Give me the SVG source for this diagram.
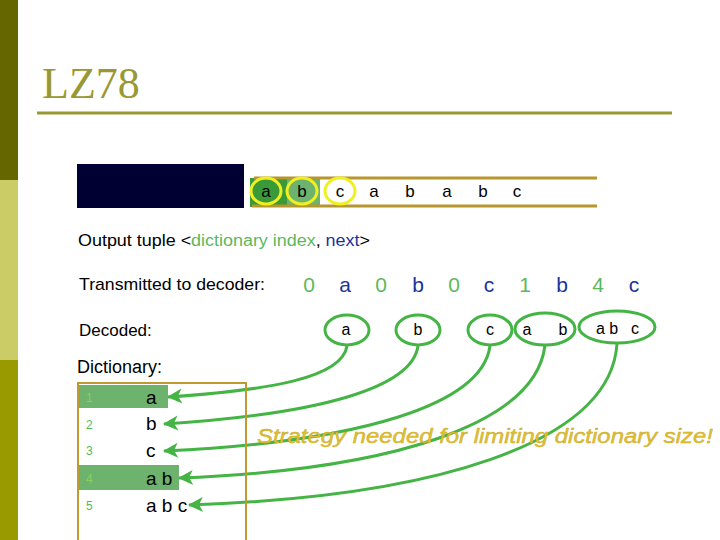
<svg xmlns="http://www.w3.org/2000/svg" width="720" height="540" viewBox="0 0 720 540">
<defs>
<style>
.sans{font-family:"Liberation Sans",Arial,sans-serif}
.blk{fill:#000}
.grn{fill:#5cb85c}
.nvy{fill:#1a3399}
.tape{font-family:"Liberation Sans",Arial,sans-serif;font-size:17px;fill:#000;text-anchor:middle}
.seq{font-family:"Liberation Sans",Arial,sans-serif;font-size:21px;text-anchor:middle}
.dec{font-family:"Liberation Sans",Arial,sans-serif;font-size:16px;fill:#000;text-anchor:middle}
.ell{fill:#fff;stroke:#44b444;stroke-width:3}
.conn{fill:none;stroke:#44b444;stroke-width:3;marker-end:url(#arr)}
.num{font-family:"Liberation Sans",Arial,sans-serif;font-size:12px;fill:#55bb55}
.numhl{fill:#88d060}
.ent{font-family:"Liberation Sans",Arial,sans-serif;font-size:19px;fill:#000}
.yc{stroke:#f0f020;stroke-width:3}
</style>
<marker id="arr" markerUnits="userSpaceOnUse" markerWidth="20" markerHeight="20" refX="14" refY="0" orient="auto" overflow="visible">
<path d="M15,0 L0,-7.5 L4,0 L0,7.5 z" fill="#44b444"/>
</marker>
</defs>
<rect width="720" height="540" fill="#fff"/>
<g id="sidebar">
<rect x="0" y="0" width="18" height="180" fill="#666600"/>
<rect x="0" y="180" width="18" height="180" fill="#cccc66"/>
<rect x="0" y="360" width="18" height="180" fill="#999900"/>
</g>
<g id="title">
<text x="42" y="98" font-family="'Liberation Serif','Times New Roman',serif" font-size="44" fill="#999933">LZ78</text>
<line x1="37" y1="113" x2="672" y2="113" stroke="#999933" stroke-width="3"/>
</g>
<g id="window">
<rect x="77" y="164" width="167" height="44" fill="#000033"/>
<rect x="250" y="178" width="37" height="29" fill="#3a9a3a"/>
<rect x="287" y="178" width="33" height="29" fill="#6db36d"/>
<line x1="254" y1="178" x2="597" y2="178" stroke="#b8962e" stroke-width="3"/>
<line x1="252" y1="206" x2="597" y2="206" stroke="#b8962e" stroke-width="3"/>
<ellipse cx="266" cy="191" rx="15" ry="13" fill="none" class="yc"/>
<ellipse cx="302" cy="191" rx="15" ry="13" fill="none" class="yc"/>
<ellipse cx="340" cy="191" rx="15" ry="13" fill="#fff" class="yc"/>
<text class="tape" x="266" y="197">a</text>
<text class="tape" x="302" y="197">b</text>
<text class="tape" x="340" y="197">c</text>
<text class="tape" x="374" y="197">a</text>
<text class="tape" x="410" y="197">b</text>
<text class="tape" x="447" y="197">a</text>
<text class="tape" x="483" y="197">b</text>
<text class="tape" x="517" y="197">c</text>
</g>
<g id="labels">
<text class="sans blk" x="78" y="246" font-size="16" textLength="292" lengthAdjust="spacingAndGlyphs">Output tuple &lt;<tspan class="grn">dictionary index</tspan>, <tspan class="nvy">next</tspan>&gt;</text>
<text class="sans blk" x="79" y="290" font-size="17" textLength="186" lengthAdjust="spacingAndGlyphs">Transmitted to decoder:</text>
<text class="sans blk" x="79" y="336" font-size="17">Decoded:</text>
<text class="sans blk" x="77" y="373" font-size="18">Dictionary:</text>
</g>
<g id="transmitted">
<text class="seq grn" x="309" y="292">0</text>
<text class="seq nvy" x="345" y="292">a</text>
<text class="seq grn" x="381" y="292">0</text>
<text class="seq nvy" x="418" y="292">b</text>
<text class="seq grn" x="454" y="292">0</text>
<text class="seq nvy" x="489" y="292">c</text>
<text class="seq grn" x="525" y="292">1</text>
<text class="seq nvy" x="562" y="292">b</text>
<text class="seq grn" x="598" y="292">4</text>
<text class="seq nvy" x="634" y="292">c</text>
</g>
<g id="connectors">
<path class="conn" d="M347,346 C342,378 270,390 168,397"/>
<path class="conn" d="M418,346 C412,388 320,414 164,424"/>
<path class="conn" d="M490,346 C482,405 360,442 164,451"/>
<path class="conn" d="M545,345 C536,425 390,470 179,478"/>
<path class="conn" d="M617,344 C610,445 430,497 189,505"/>
</g>
<g id="decoded-a">
<ellipse class="ell" cx="347" cy="330" rx="22" ry="15"/>
<text class="dec" x="346" y="335">a</text>
</g>
<g id="decoded-b">
<ellipse class="ell" cx="418" cy="330" rx="22" ry="15"/>
<text class="dec" x="418" y="335">b</text>
</g>
<g id="decoded-c">
<ellipse class="ell" cx="490" cy="330" rx="22" ry="15"/>
<text class="dec" x="490" y="335">c</text>
</g>
<g id="decoded-ab">
<ellipse class="ell" cx="545" cy="329" rx="30" ry="16"/>
<text class="dec" x="527" y="335">a</text>
<text class="dec" x="563" y="335">b</text>
</g>
<g id="decoded-abc">
<ellipse class="ell" cx="617" cy="327" rx="38" ry="16"/>
<text class="dec" x="607" y="334">a b</text>
<text class="dec" x="635" y="334">c</text>
</g>
<g id="dictionary">
<rect x="78" y="383" width="168" height="170" fill="none" stroke="#c09a30" stroke-width="2"/>
<rect x="79" y="385" width="89" height="23" fill="#6db36d"/>
<rect x="79" y="465" width="100" height="25" fill="#6db36d"/>
<text class="num numhl" x="86" y="402">1</text>
<text class="num" x="86" y="429">2</text>
<text class="num" x="86" y="455">3</text>
<text class="num numhl" x="86" y="483">4</text>
<text class="num" x="86" y="510">5</text>
<text class="ent" x="146" y="404">a</text>
<text class="ent" x="146" y="430">b</text>
<text class="ent" x="146" y="457">c</text>
<text class="ent" x="146" y="485">a b</text>
<text class="ent" x="146" y="512">a b c</text>
</g>
<g id="note">
<text x="257" y="443" font-family="'Liberation Sans',Arial,sans-serif" font-size="20" font-style="italic" fill="#e0c030" stroke="#c8a828" stroke-width="0.4" textLength="456" lengthAdjust="spacingAndGlyphs">Strategy needed for limiting dictionary size!</text>
</g>
</svg>
